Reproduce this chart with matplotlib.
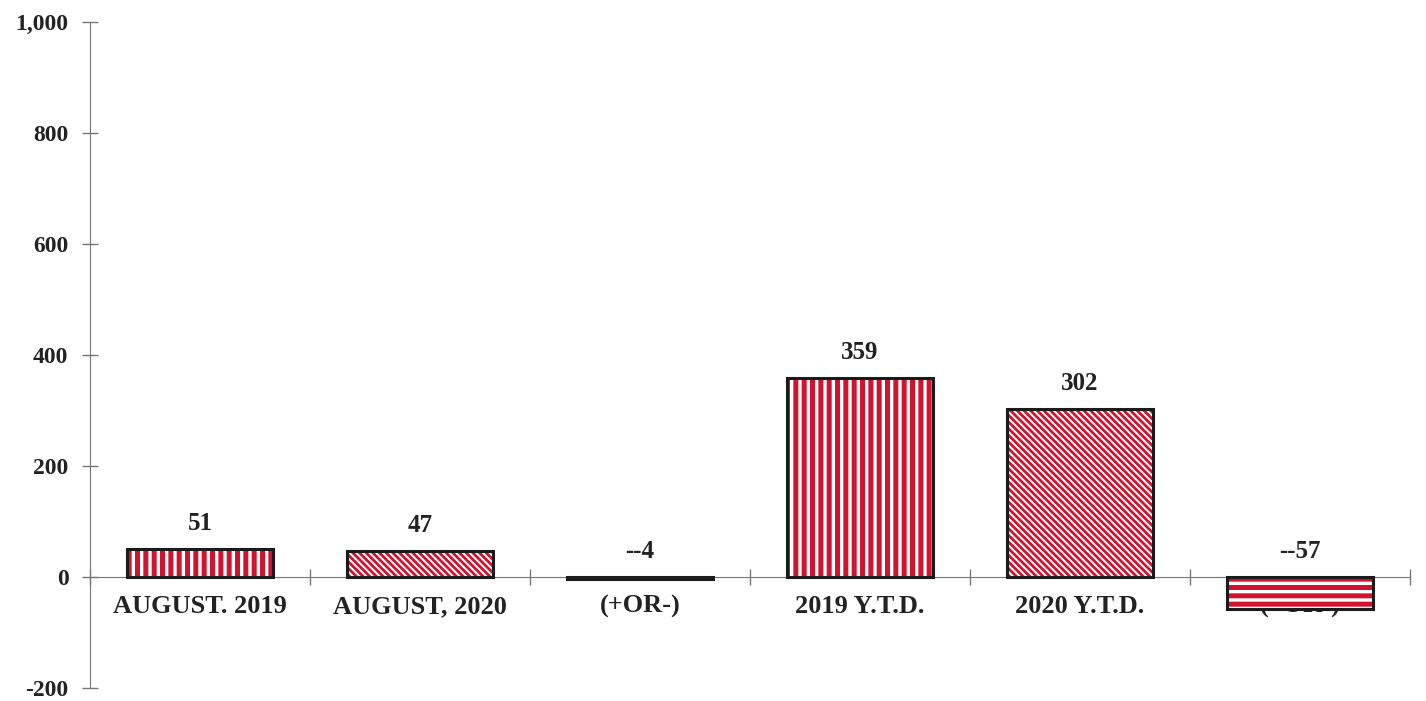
import matplotlib
matplotlib.use("Agg")
import matplotlib.pyplot as plt

categories = ["AUGUST. 2019", "AUGUST, 2020", "(+OR-)", "2019 Y.T.D.", "2020 Y.T.D.", "(+OR-)"]
values = [51, 47, -4, 359, 302, -57]
value_labels = ["51", "47", "--4", "359", "302", "--57"]
hatches = ["||", "\\\\\\\\\\", "", "||", "\\\\\\\\\\", "--"]
hatch_lw = [3.6, 2.0, 1.0, 3.6, 2.0, 3.6]
yticks = [-200, 0, 200, 400, 600, 800, 1000]
ytick_labels = ["-200", "0", "200", "400", "600", "800", "1,000"]

plt.rcParams["font.family"] = ["Liberation Serif", "DejaVu Serif"]
plt.rcParams["font.weight"] = "bold"

RED = "#d1132e"
TXT = "#222222"
fig = plt.figure(figsize=(14.26, 7.01), dpi=100)
ax = fig.add_axes([0.0631, 0.0186, 0.9257, 0.95])

x = list(range(len(categories)))
for xi, v, h, lw in zip(x, values, hatches, hatch_lw):
    with plt.rc_context({"hatch.linewidth": lw}):
        bars = ax.bar([xi], [v], width=0.66, color="white", edgecolor=RED, hatch=h,
                      linewidth=0, zorder=3)
        for b in bars:
            if hasattr(b, "set_hatch_linewidth"):
                b.set_hatch_linewidth(lw)
ax.bar(x, values, width=0.66, fill=False, edgecolor="#1a1a1a", linewidth=2.2, zorder=4)

for xi, v, lab in zip(x, values, value_labels):
    top = max(v, 0)
    ax.annotate(lab, (xi, top), xytext=(0, 10), textcoords="offset points",
                ha="center", va="bottom", fontsize=18, fontweight="bold", color=TXT)

for xi, c in zip(x, categories):
    ax.annotate(c, (xi, 0), xytext=(0, -13), textcoords="offset points",
                ha="center", va="top", fontsize=19, fontweight="bold", color=TXT, zorder=1)

ax.set_xlim(-0.5, 5.5)
ax.set_ylim(-200, 1000)
ax.set_xticks([i - 0.5 for i in range(len(categories) + 1)])
ax.set_xticklabels([])
ax.set_yticks(yticks)
ax.set_yticklabels(ytick_labels, fontsize=17, fontweight="bold", color=TXT)

for s in ["top", "right"]:
    ax.spines[s].set_visible(False)
ax.spines["bottom"].set_position(("data", 0))
ax.spines["bottom"].set_color("#777777")
ax.spines["left"].set_color("#777777")
ax.tick_params(axis="both", direction="inout", length=11, color="#777777", width=1)
ax.tick_params(axis="y", pad=10)
ax.set_facecolor("white")

fig.savefig("out.png", dpi=100, facecolor="white")
